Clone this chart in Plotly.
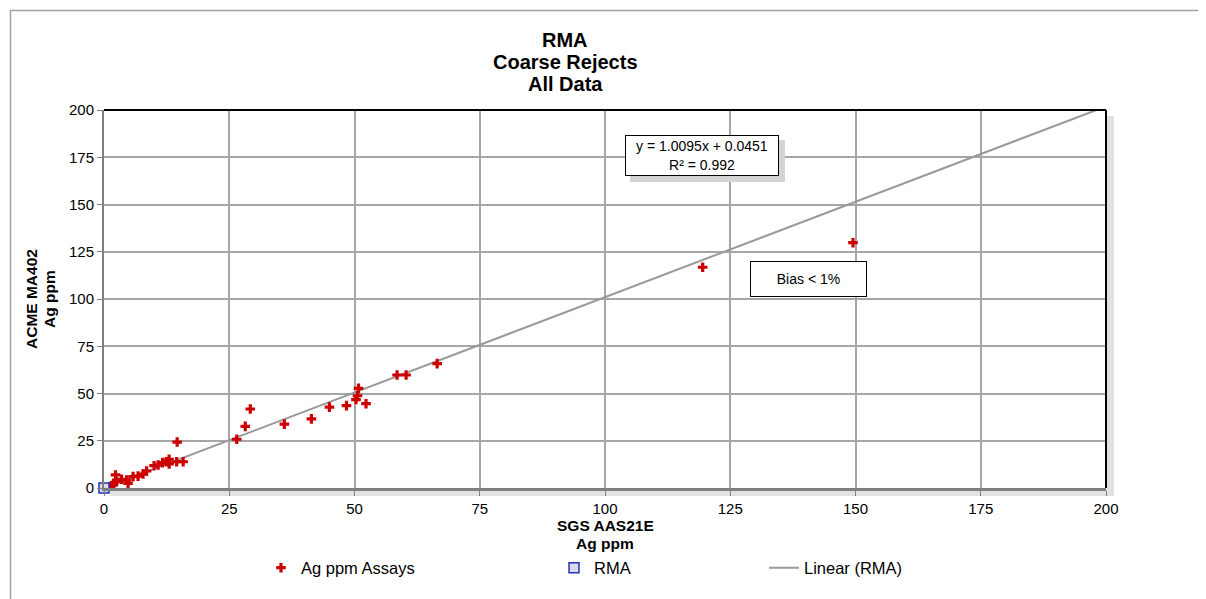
import plotly.graph_objects as go

# ---------------- data ----------------
assay_x = [0.9, 1.5, 1.9, 2.3, 2.5, 3.5, 4.5, 4.8, 5.8, 6.8, 7.8, 8.5, 10.0, 10.8,
           11.7, 12.5, 13.0, 13.0, 14.5, 14.6, 15.8,
           26.5, 28.2, 29.2, 36.0, 41.4, 45.0, 48.4, 50.3, 50.6, 50.8, 52.3,
           58.5, 60.3, 66.5, 119.5, 149.5]
assay_y = [0.3, 1.2, 2.5, 6.9, 3.3, 4.6, 4.2, 2.5, 6.0, 6.3, 7.4, 9.0, 11.8, 12.2,
           13.4, 13.9, 15.2, 12.7, 13.9, 24.3, 13.9,
           25.8, 32.6, 41.8, 33.8, 36.6, 42.8, 43.6, 46.8, 48.8, 52.7, 44.6,
           59.8, 59.8, 65.8, 116.8, 129.8]
rma_x = [0.0]
rma_y = [0.0]
fit_x = [0.0, 198.1]
fit_y = [0.0451, 200.0]
ticks = [0, 25, 50, 75, 100, 125, 150, 175, 200]
title_lines = ["RMA", "Coarse Rejects", "All Data"]
x_title_lines = ["SGS AAS21E", "Ag ppm"]
y_title_lines = ["ACME MA402", "Ag ppm"]
equation = "y = 1.0095x + 0.0451<br>R² = 0.992"
bias_note = "Bias < 1%"

# ---------------- layout constants ----------------
OFF = 8                      # browser body margin
W, H = 1206 - OFF, 599 - OFF
L, T = 104 - OFF, 110 - OFF  # plot area left/top in page px: 104 / 110
PW, PH = 1002, 378
R, B = W - L - PW, H - T - PH
FONT = "Liberation Sans, Arial, sans-serif"


def px_x(p):
    """page pixel x -> paper coordinate"""
    return (p - OFF - L) / PW


def px_y(p):
    """page pixel y -> paper coordinate"""
    return (T + PH - (p - OFF)) / PH


fig = go.Figure()
fig.add_trace(go.Scatter(
    x=fit_x, y=fit_y, mode="lines", name="Linear (RMA)",
    line=dict(color="#999999", width=2), legend="legend3"))
fig.add_trace(go.Scatter(
    x=assay_x, y=assay_y, mode="markers", name="Ag ppm Assays",
    marker=dict(symbol="cross", size=8, color="#cc0000", line=dict(width=0)),
    legend="legend"))
fig.add_trace(go.Scatter(
    x=rma_x, y=rma_y, mode="markers", name="RMA",
    marker=dict(symbol="square", size=10, color="#d9d9e8",
                line=dict(color="#2233bb", width=1.5)),
    cliponaxis=False, legend="legend2"))

axis_common = dict(
    range=[0, 200], tickvals=ticks, showgrid=True, gridcolor="#a6a6a6", gridwidth=2,
    zeroline=False, showline=True, linecolor="#7f7f7f",
    ticks="outside", ticklen=5, tickcolor="#7f7f7f", tickwidth=1,
    tickfont=dict(family=FONT, size=15, color="black"),
    fixedrange=True,
)

shapes = []
# outer chart border (left & top)
shapes.append(dict(type="line", xref="paper", yref="paper",
                   x0=px_x(10), x1=px_x(1215), y0=px_y(10.5), y1=px_y(10.5),
                   line=dict(color="#a0a0a0", width=1.5)))
shapes.append(dict(type="line", xref="paper", yref="paper",
                   x0=px_x(10.5), x1=px_x(10.5), y0=px_y(10), y1=px_y(610),
                   line=dict(color="#a0a0a0", width=1.5)))
# plot-area shadow
shapes.append(dict(type="rect", xref="paper", yref="paper",
                   x0=px_x(1107), x1=px_x(1114), y0=px_y(116), y1=px_y(496),
                   fillcolor="#e2e2e2", line=dict(width=0), layer="below"))
shapes.append(dict(type="rect", xref="paper", yref="paper",
                   x0=px_x(110), x1=px_x(1114), y0=px_y(490), y1=px_y(496),
                   fillcolor="#e2e2e2", line=dict(width=0), layer="below"))
# black top and right plot borders
shapes.append(dict(type="line", xref="paper", yref="paper", x0=0, x1=1, y0=1, y1=1,
                   line=dict(color="black", width=2)))
shapes.append(dict(type="line", xref="paper", yref="paper", x0=1, x1=1, y0=0, y1=1,
                   line=dict(color="black", width=2)))
# equation box shadow
shapes.append(dict(type="rect", xref="paper", yref="paper",
                   x0=px_x(630), x1=px_x(785), y0=px_y(140), y1=px_y(182),
                   fillcolor="#d4d4d4", line=dict(width=0)))

annotations = []
for i, line in enumerate(title_lines):
    annotations.append(dict(
        text="<b>" + line + "</b>", xref="paper", yref="paper",
        x=px_x(565), y=px_y(40 + 22 * i), xanchor="center", yanchor="middle",
        showarrow=False, font=dict(family=FONT, size=20, color="black")))
for i, line in enumerate(x_title_lines):
    annotations.append(dict(
        text="<b>" + line + "</b>", xref="paper", yref="paper",
        x=0.5, y=px_y(525 + 18 * i), xanchor="center", yanchor="middle",
        showarrow=False, font=dict(family=FONT, size=15.5, color="black")))
for i, line in enumerate(y_title_lines):
    annotations.append(dict(
        text="<b>" + line + "</b>", xref="paper", yref="paper",
        x=px_x(31 + 18 * i), y=0.5, xanchor="center", yanchor="middle",
        textangle=-90, showarrow=False,
        font=dict(family=FONT, size=15.5, color="black")))
annotations += [
    dict(text=equation, xref="x", yref="y", x=119.4, y=175.9, showarrow=False,
         xanchor="center", yanchor="middle",
         font=dict(family=FONT, size=14, color="black"), bgcolor="white",
         bordercolor="black", borderwidth=1, borderpad=0, width=152, height=39),
    dict(text=bias_note, xref="x", yref="y", x=140.6, y=110.7, showarrow=False,
         xanchor="center", yanchor="middle",
         font=dict(family=FONT, size=14, color="black"), bgcolor="white",
         bordercolor="black", borderwidth=1, borderpad=0, width=115, height=34),
]

legend_common = dict(orientation="h", yanchor="middle", y=px_y(568), xanchor="left",
                     font=dict(family=FONT, size=16.5, color="black"),
                     bgcolor="rgba(0,0,0,0)", borderwidth=0)

fig.update_layout(
    width=W, height=H,
    margin=dict(l=L, r=R, t=T, b=B, pad=0),
    paper_bgcolor="white", plot_bgcolor="white",
    font=dict(family=FONT, color="black"),
    xaxis=dict(axis_common, linewidth=3),
    yaxis=dict(axis_common, linewidth=2),
    shapes=shapes,
    annotations=annotations,
    showlegend=True,
    legend=dict(legend_common, x=px_x(261)),
    legend2=dict(legend_common, x=px_x(554)),
    legend3=dict(legend_common, x=px_x(764)),
)

fig.write_html("out.html")
